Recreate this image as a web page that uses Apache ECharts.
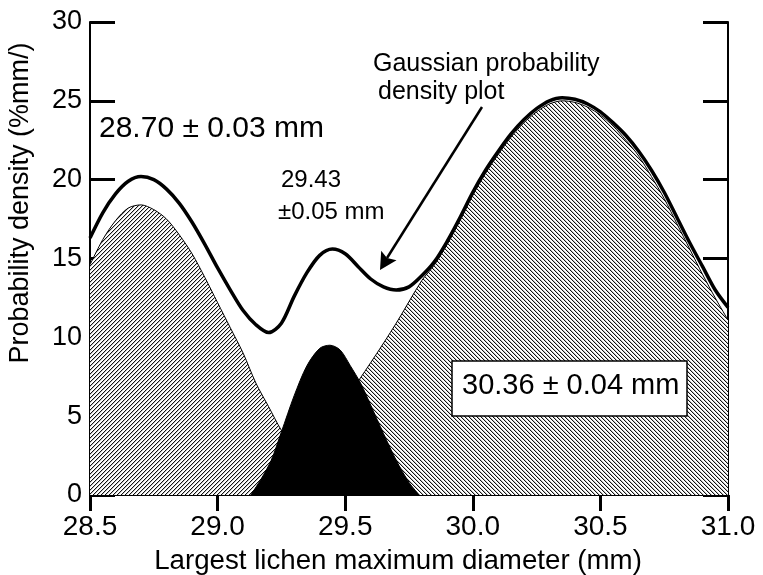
<!DOCTYPE html>
<html>
<head>
<meta charset="utf-8">
<script src="https://cdn.jsdelivr.net/npm/echarts@6/dist/echarts.min.js"></script>
<style>html,body{margin:0;padding:0;background:#fff;}#c{width:763px;height:575px;}</style>
</head>
<body>
<div id="c"></div>
<script>
// ---- data ----
const xTicks = [28.5, 29.0, 29.5, 30.0, 30.5, 31.0];
const yTicks = [0, 5, 10, 15, 20, 25, 30];

// Gaussian probability density plot (sum curve)
const sumX = [28.50,28.55,28.60,28.65,28.70,28.75,28.80,28.85,28.90,28.95,29.00,29.05,29.10,29.15,29.20,29.25,29.30,29.35,29.40,29.45,29.50,29.55,29.60,29.65,29.70,29.75,29.80,29.85,29.90,29.95,30.00,30.05,30.10,30.15,30.20,30.25,30.30,30.35,30.40,30.45,30.50,30.55,30.60,30.65,30.70,30.75,30.80,30.85,30.90,30.95,31.00];
const sumY = [16.3,17.9,19.1,19.9,20.2,20.0,19.4,18.5,17.3,15.9,14.4,13.0,11.7,10.8,10.3,10.9,12.6,14.1,15.2,15.6,15.3,14.5,13.7,13.2,13.0,13.2,13.9,14.8,16.1,17.6,19.2,20.6,21.8,22.9,23.8,24.5,25.0,25.2,25.1,24.8,24.3,23.6,22.8,21.8,20.6,19.2,17.6,16.0,14.5,13.0,11.9];

// component 28.70 ± 0.03 mm
const leftX = [28.50,28.55,28.60,28.65,28.70,28.75,28.80,28.85,28.90,28.95,29.00,29.05,29.10,29.15,29.20,29.25,29.30,29.35,29.40];
const leftY = [14.6,16.2,17.4,18.2,18.4,18.1,17.5,16.5,15.3,13.8,12.2,10.6,9.0,7.1,5.6,4.1,3.0,2.0,0];

// component 29.43 ± 0.05 mm
const midX = [29.13,29.17,29.21,29.25,29.30,29.35,29.40,29.44,29.48,29.52,29.56,29.60,29.65,29.70,29.75,29.79];
const midY = [0,1.0,2.2,4.0,6.3,8.2,9.3,9.5,9.2,8.2,7.1,5.7,3.9,2.2,0.8,0];

// component 30.36 ± 0.04 mm
const rightX = [29.20,29.30,29.40,29.50,29.60,29.70,29.80,29.85,29.90,29.95,30.00,30.05,30.10,30.15,30.20,30.25,30.30,30.35,30.40,30.45,30.50,30.55,30.60,30.65,30.70,30.75,30.80,30.85,30.90,30.95,31.00];
const rightY = [0,3.0,4.5,6.1,8.4,10.9,13.6,14.6,15.9,17.4,19.0,20.4,21.6,22.7,23.6,24.3,24.8,25.0,24.9,24.6,24.1,23.4,22.5,21.5,20.2,18.8,17.2,15.6,14.0,12.5,11.1];

const pairs = (xs, ys) => xs.map((x, i) => [x, ys[i]]);

// ---- hatch patterns ----
function hatch(forward) {
  const c = document.createElement('canvas');
  c.width = 4; c.height = 4;
  const g = c.getContext('2d');
  g.fillStyle = '#fff'; g.fillRect(0, 0, 4, 4);
  for (let y = 0; y < 4; y++) {
    const xb = forward ? (3 - y) : y;
    g.fillStyle = '#111'; g.fillRect(xb, y, 1, 1);
    g.fillStyle = '#c4c4c4'; g.fillRect((xb + 1) % 4, y, 1, 1);
  }
  return c;
}

const FONT = "'Liberation Sans', Arial, Helvetica, sans-serif";
const chart = echarts.init(document.getElementById('c'), null, {renderer: 'canvas'});

const axisLineStyle = {color: '#000', width: 2};
chart.setOption({
  animation: false,
  backgroundColor: '#fff',
  grid: {left: 90, right: 35, top: 22, bottom: 80, outerBoundsMode: 'none'},
  xAxis: [{
    type: 'value', position: 'bottom', min: xTicks[0], max: xTicks[xTicks.length - 1], interval: 0.5,
    axisLine: {show: true, lineStyle: axisLineStyle},
    axisTick: {show: true, inside: false, length: 14, lineStyle: {color: '#000', width: 3}},
    axisLabel: {show: true, margin: 18, color: '#000', fontSize: 28, fontFamily: FONT, formatter: v => v.toFixed(1)},
    splitLine: {show: false}
  }, {
    type: 'value', position: 'top', min: xTicks[0], max: xTicks[xTicks.length - 1], interval: 0.5,
    axisLine: {show: true, lineStyle: axisLineStyle},
    axisTick: {show: true, inside: true, length: 16, lineStyle: {color: '#000', width: 3}},
    axisLabel: {show: false}, splitLine: {show: false}
  }],
  yAxis: [{
    type: 'value', position: 'left', min: yTicks[0], max: yTicks[yTicks.length - 1], interval: 5,
    axisLine: {show: true, lineStyle: axisLineStyle},
    axisTick: {show: true, inside: true, length: 25, lineStyle: {color: '#000', width: 3}},
    axisLabel: {show: true, margin: 8, color: '#000', fontSize: 27, fontFamily: FONT},
    splitLine: {show: false}
  }, {
    type: 'value', position: 'right', min: yTicks[0], max: yTicks[yTicks.length - 1], interval: 5,
    axisLine: {show: true, lineStyle: axisLineStyle},
    axisTick: {show: true, inside: true, length: 25, lineStyle: {color: '#000', width: 3}},
    axisLabel: {show: false}, splitLine: {show: false}
  }],
  series: [
    {type: 'line', name: '30.36', data: pairs(rightX, rightY), showSymbol: false, smooth: 0.3, z: 2,
     lineStyle: {color: '#000', width: 1}, areaStyle: {color: {image: hatch(false), repeat: 'repeat'}, opacity: 1}},
    {type: 'line', name: '28.70', data: pairs(leftX, leftY), showSymbol: false, smooth: 0.3, z: 3,
     lineStyle: {color: '#000', width: 1}, areaStyle: {color: {image: hatch(true), repeat: 'repeat'}, opacity: 1}},
    {type: 'line', name: '29.43', data: pairs(midX, midY), showSymbol: false, smooth: 0.3, z: 4,
     lineStyle: {color: '#000', width: 1}, areaStyle: {color: '#000', opacity: 1}},
    {type: 'line', name: 'sum', data: pairs(sumX, sumY), showSymbol: false, smooth: 0.3, z: 5,
     lineStyle: {color: '#000', width: 3.5}}
  ],
  graphic: [
    {type: 'text', x: 398, y: 561, style: {text: 'Largest lichen maximum diameter (mm)', font: '27.7px ' + FONT, fill: '#000', textAlign: 'center', textVerticalAlign: 'middle'}},
    {type: 'text', x: 21, y: 203, rotation: Math.PI / 2, style: {text: 'Probability density (%mm/)', font: '27px ' + FONT, fill: '#000', textAlign: 'center', textVerticalAlign: 'middle'}},
    {type: 'text', x: 99, y: 129, style: {text: '28.70 \u00b1 0.03 mm', font: '30px ' + FONT, fill: '#000', textAlign: 'left', textVerticalAlign: 'middle'}},
    {type: 'text', x: 281, y: 180, style: {text: '29.43', font: '24px ' + FONT, fill: '#000', textAlign: 'left', textVerticalAlign: 'middle'}},
    {type: 'text', x: 278, y: 212, style: {text: '\u00b10.05 mm', font: '24px ' + FONT, fill: '#000', textAlign: 'left', textVerticalAlign: 'middle'}},
    {type: 'text', x: 373, y: 64, style: {text: 'Gaussian probability', font: '25px ' + FONT, fill: '#000', textAlign: 'left', textVerticalAlign: 'middle'}},
    {type: 'text', x: 378, y: 92, style: {text: 'density plot', font: '25px ' + FONT, fill: '#000', textAlign: 'left', textVerticalAlign: 'middle'}},
    {type: 'line', shape: {x1: 482, y1: 107, x2: 387, y2: 258}, style: {stroke: '#000', lineWidth: 2.5}, z: 10},
    {type: 'polygon', shape: {points: [[380, 270], [396.5, 260.3], [387, 258], [381.2, 250.7]]}, style: {fill: '#000'}, z: 10},
    {type: 'rect', shape: {x: 452, y: 361, width: 235, height: 55}, style: {fill: '#fff', stroke: '#000', lineWidth: 1.5}, z: 10},
    {type: 'text', x: 462, y: 386, style: {text: '30.36 \u00b1 0.04 mm', font: '29px ' + FONT, fill: '#000', textAlign: 'left', textVerticalAlign: 'middle'}, z: 11}
  ]
});
</script>
</body>
</html>
